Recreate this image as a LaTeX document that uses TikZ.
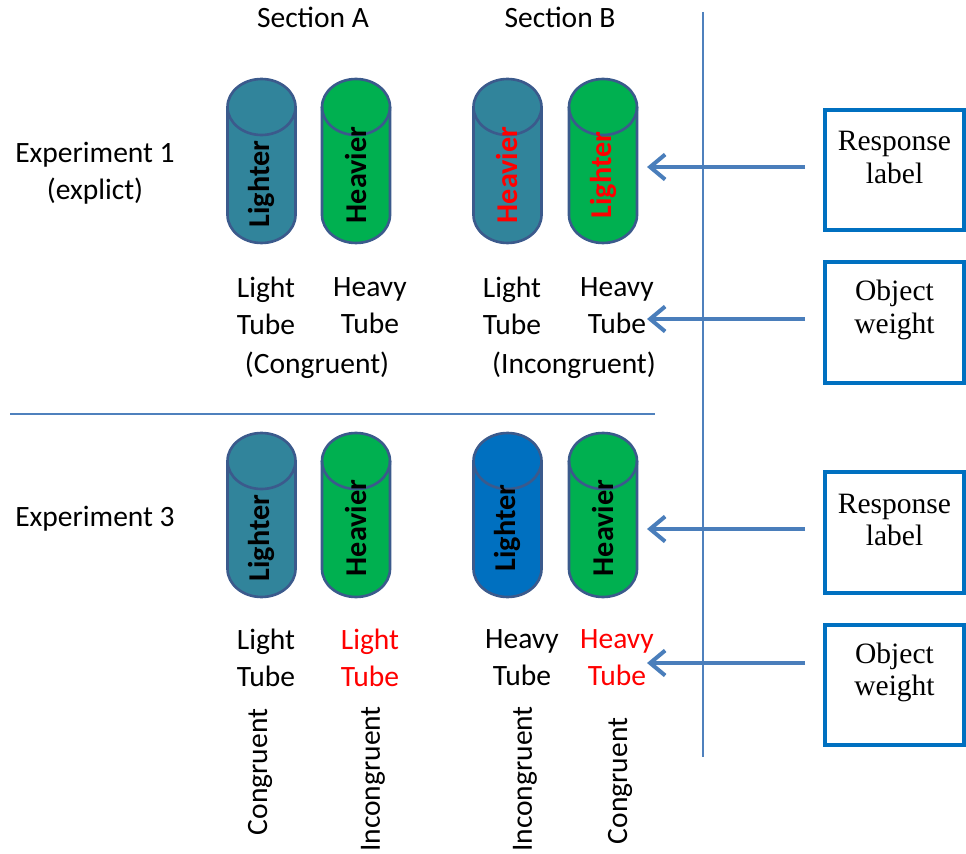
\documentclass[tikz,border=0pt]{standalone}
\usepackage{fontspec}
\setmainfont{Carlito}
\newfontfamily\boxfont{Liberation Serif}
\usetikzlibrary{arrows.meta}

\definecolor{tealtube}{HTML}{31849B}
\definecolor{greentube}{HTML}{00B050}
\definecolor{bluetube}{HTML}{0070C0}
\definecolor{tubeline}{HTML}{3B5A8C}
\definecolor{boxblue}{HTML}{0070C0}
\definecolor{arrowblue}{HTML}{4A7EBB}
\definecolor{ruleblue}{HTML}{4F81BD}

% tube: name, x, y, fill colour
\newcommand\tubeat[4]{%
  \coordinate (#1) at (#2,#3);
  \filldraw[tubeshape, fill=#4] ([xshift=-0.68cm,yshift=1.08cm]#1)
    -- ([xshift=-0.68cm,yshift=-1.08cm]#1)
    arc[start angle=180, end angle=360, x radius=0.68cm, y radius=0.56cm]
    -- ([xshift=0.68cm,yshift=1.08cm]#1)
    arc[start angle=0, end angle=180, x radius=0.68cm, y radius=0.56cm] -- cycle;
  \draw[tubeshape] ([xshift=-0.68cm,yshift=1.08cm]#1)
    arc[start angle=180, end angle=360, x radius=0.68cm, y radius=0.56cm];
}

\tikzset{
  txt/.style={font=\fontsize{16.8}{21}\selectfont, align=center, inner sep=0pt},
  upright/.style={txt, rotate=90},
  tubeshape/.style={draw=tubeline, line width=1.5pt},
  tubeword/.style={font=\fontsize{17.2}{20}\selectfont\bfseries, rotate=90, inner sep=0pt},
  rbox/.style={draw=boxblue, line width=0.08cm, minimum width=2.78cm, minimum height=2.42cm},
  boxtxt/.style={font=\boxfont\fontsize{16.8}{18.7}\selectfont, align=center, inner sep=0pt, yshift=0.25cm},
  feed/.style={draw=arrowblue, line width=0.08cm, shorten <=0.36cm,
    -{Straight Barb[length=0.3cm,width=0.5cm]}},
  sep/.style={draw=ruleblue, line width=0.6pt}
}

\begin{document}
\begin{tikzpicture}[x=0.02cm,y=-0.02cm]
  \useasboundingbox (0,0) rectangle (966,854);

  % dividers
  \draw[sep] (703,12) -- (703,757);
  \draw[sep] (10,414) -- (655,414);

  % headings
  \node[txt, anchor=base] (secA) at (313,28) {Section A};
  \node[txt, anchor=base] (secB) at (560,28) {Section B};
  \node[txt] (exp1) at (95,173) {Experiment 1\\(explict)};
  \node[txt, anchor=base] (exp3) at (95,526) {Experiment 3};

  % experiment 1 tubes
  \tubeat{a1}{261.5}{161}{tealtube}
  \tubeat{a2}{356}{161}{greentube}
  \tubeat{b1}{507.5}{161}{tealtube}
  \tubeat{b2}{603}{161}{greentube}
  \node[tubeword] (a1w) at ([yshift=-0.46cm]a1) {Lighter};
  \node[tubeword] (a2w) at ([yshift=-0.28cm]a2) {Heavier};
  \node[tubeword, red] (b1w) at ([yshift=-0.28cm]b1) {Heavier};
  \node[tubeword, red] (b2w) at ([yshift=-0.28cm]b2) {Lighter};

  \node[txt] (a1l) at (266,306) {Light\\Tube};
  \node[txt] (a2l) at (370,306) {Heavy\\Tube};
  \node[txt, anchor=base] (acon) at (317,374) {(Congruent)};
  \node[txt] (b1l) at (512,306) {Light\\Tube};
  \node[txt] (b2l) at (617,306) {Heavy\\Tube};
  \node[txt, anchor=base] (bcon) at (574,374) {(Incongruent)};

  % experiment 3 tubes
  \tubeat{c1}{261.5}{515}{tealtube}
  \tubeat{c2}{356}{515}{greentube}
  \tubeat{d1}{507.5}{515}{bluetube}
  \tubeat{d2}{603}{515}{greentube}
  \node[tubeword] (c1w) at ([yshift=-0.46cm]c1) {Lighter};
  \node[tubeword] (c2w) at ([yshift=-0.26cm]c2) {Heavier};
  \node[tubeword] (d1w) at ([yshift=-0.26cm]d1) {Lighter};
  \node[tubeword] (d2w) at ([yshift=-0.26cm]d2) {Heavier};

  \node[txt] (c1l) at (266,658) {Light\\Tube};
  \node[txt, red] (c2l) at (370,658) {Light\\Tube};
  \node[txt] (d1l) at (522,658) {Heavy\\Tube};
  \node[txt, red] (d2l) at (617,658) {Heavy\\Tube};
  \node[upright] (c1c) at (260,772) {Congruent};
  \node[upright] (c2c) at (373,779) {Incongruent};
  \node[upright] (d1c) at (525,779) {Incongruent};
  \node[upright] (d2c) at (620,781) {Congruent};

  % response / weight boxes
  \node[rbox] (resp1) at (894.5,170) {};
  \node[boxtxt] (resp1t) at (resp1.center) {Response\\label};
  \node[rbox] (obj1) at (894.5,322.5) {};
  \node[boxtxt] (obj1t) at (obj1.center) {Object\\weight};
  \node[rbox] (resp2) at (894.5,532.5) {};
  \node[boxtxt] (resp2t) at (resp2.center) {Response\\label};
  \node[rbox] (obj2) at (894.5,685) {};
  \node[boxtxt] (obj2t) at (obj2.center) {Object\\weight};

  % arrows
  \coordinate (tip1) at (647,167);
  \coordinate (tip2) at (647,319);
  \coordinate (tip3) at (647,529);
  \coordinate (tip4) at (647,663);
  \draw[feed] (resp1.west |- tip1) -- (tip1);
  \draw[feed] (obj1.west |- tip2) -- (tip2);
  \draw[feed] (resp2.west |- tip3) -- (tip3);
  \draw[feed] (obj2.west |- tip4) -- (tip4);
\end{tikzpicture}
\end{document}
